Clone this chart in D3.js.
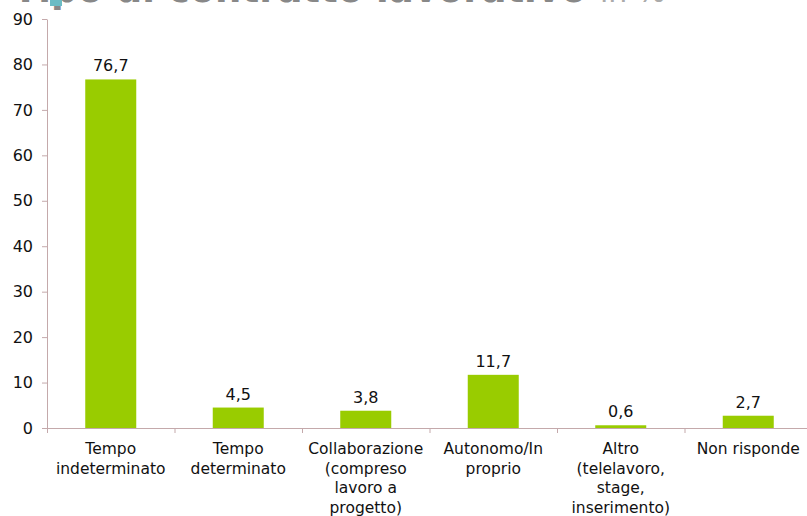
<!DOCTYPE html>
<html><head><meta charset="utf-8">
<script src="https://cdn.jsdelivr.net/npm/d3@7"></script>
<style>body{margin:0;background:#fff}svg{display:block}</style>
</head><body>
<svg id="c" width="807" height="516"></svg>
<script>
const categories = [
  ["Tempo","indeterminato"],
  ["Tempo","determinato"],
  ["Collaborazione","(compreso","lavoro a","progetto)"],
  ["Autonomo/In","proprio"],
  ["Altro","(telelavoro,","stage,","inserimento)"],
  ["Non risponde"]
];
const values = [76.7, 4.5, 3.8, 11.7, 0.6, 2.7];
const yTicks = [0,10,20,30,40,50,60,70,80,90];
const titleText = "Tipo di contratto lavorativo";
const titleSuffix = "in %";

(function() {
const svg = d3.select("#c");
const font = "'DejaVu Sans', Verdana, sans-serif";
const axisColor = "#c4a9ab";
const mLeft = 47, mRight = 812, mTop = 19, mBottom = 428;

const x = d3.scaleBand().domain(d3.range(categories.length)).range([mLeft, mRight]).padding(0);
const y = d3.scaleLinear().domain([0, 90]).range([mBottom, mTop]);

// cropped title (only its lower edge is visible, as in the reference)
svg.append("text").attr("x", 13).attr("y", 1.5)
  .attr("font-family", font).attr("font-weight", "bold").attr("font-size", 37)
  .attr("fill", "#888888").text(titleText);
svg.append("text").attr("x", 600).attr("y", 1.5)
  .attr("font-family", font).attr("font-size", 30)
  .attr("fill", "#aaaaaa").text(titleSuffix);
svg.append("rect").attr("x", 50).attr("y", 0).attr("width", 12).attr("height", 6).attr("fill", "#6bbcc4");

// y axis
const ya = svg.append("g").attr("transform", `translate(${mLeft},0)`)
  .call(d3.axisLeft(y).tickValues(yTicks).tickSize(5).tickSizeOuter(0).tickPadding(9));
ya.select(".domain").attr("stroke", axisColor);
ya.selectAll(".tick line").attr("stroke", axisColor);
ya.selectAll(".tick text").attr("font-family", font).attr("font-size", 16).attr("fill", "#111");

// bars
const bw = x.bandwidth() * 0.4;
svg.append("g").selectAll("rect").data(values).join("rect")
  .attr("x", (d, i) => x(i) + (x.bandwidth() - bw) / 2)
  .attr("width", bw)
  .attr("y", d => y(d))
  .attr("height", d => y(0) - y(d))
  .attr("fill", "#99cc00");

// x axis with ticks at category boundaries
const xb = d3.scaleLinear().domain([0, categories.length]).range([mLeft, mRight]);
const xa = svg.append("g").attr("transform", `translate(0,${mBottom})`)
  .call(d3.axisBottom(xb).tickValues(d3.range(categories.length + 1)).tickSize(5).tickSizeOuter(0).tickFormat(""));
xa.select(".domain").attr("stroke", axisColor);
xa.selectAll(".tick line").attr("stroke", axisColor);

// category labels
const lab = svg.append("g").selectAll("text").data(categories).join("text")
  .attr("x", (d, i) => x(i) + x.bandwidth() / 2)
  .attr("y", 454)
  .attr("text-anchor", "middle")
  .attr("font-family", font).attr("font-size", 15.5).attr("fill", "#111");
lab.each(function(d) {
  const cx = d3.select(this).attr("x");
  d3.select(this).selectAll("tspan").data(d).join("tspan")
    .attr("x", cx)
    .attr("dy", (t, j) => j === 0 ? 0 : 19.6)
    .text(t => t);
});

// value labels
svg.append("g").selectAll("text").data(values).join("text")
  .attr("x", (d, i) => x(i) + x.bandwidth() / 2)
  .attr("y", d => y(d) - 8)
  .attr("text-anchor", "middle")
  .attr("font-family", font).attr("font-size", 16).attr("fill", "#111")
  .text(d => d3.format(".1f")(d).replace(".", ","));
})();
</script>
</body></html>
